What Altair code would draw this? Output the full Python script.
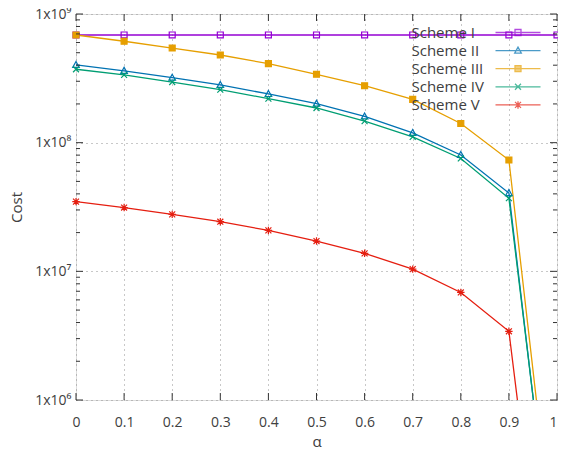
import altair as alt
import pandas as pd

# ---------------- data ----------------
alpha = [0.0, 0.1, 0.2, 0.3, 0.4, 0.5, 0.6, 0.7, 0.8, 0.9, 1.0]
schemes = ["Scheme I", "Scheme II", "Scheme III", "Scheme IV", "Scheme V"]
cost_I = [6.87e8, 6.87e8, 6.87e8, 6.87e8, 6.87e8, 6.87e8, 6.87e8, 6.87e8, 6.87e8, 6.87e8, 6.87e8]
cost_II = [4.02e8, 3.62e8, 3.20e8, 2.81e8, 2.39e8, 2.01e8, 1.60e8, 1.19e8, 8.02e7, 4.06e7, 2.8e4]
cost_III = [6.87e8, 6.14e8, 5.44e8, 4.80e8, 4.11e8, 3.40e8, 2.77e8, 2.17e8, 1.41e8, 7.33e7, 4.0e4]
cost_IV = [3.72e8, 3.36e8, 2.96e8, 2.58e8, 2.20e8, 1.86e8, 1.47e8, 1.11e8, 7.54e7, 3.70e7, 3.1e4]
cost_V = [3.48e7, 3.13e7, 2.77e7, 2.43e7, 2.08e7, 1.72e7, 1.38e7, 1.04e7, 6.85e6, 3.42e6, 3.3e3]

x_ticks = [0.0, 0.1, 0.2, 0.3, 0.4, 0.5, 0.6, 0.7, 0.8, 0.9, 1.0]
y_major = [1e6, 1e7, 1e8, 1e9]
y_labels = ["1x10⁶", "1x10⁷", "1x10⁸", "1x10⁹"]
y_minor = [k * 10 ** n for n in (6, 7, 8) for k in range(2, 10)]

colors = ["#9400d3", "#0072b2", "#e69f00", "#009e73", "#e51e10"]
fills = ["transparent", "transparent", "#e69f00", "transparent", "transparent"]


def f(v):
    return f"{v:.3f}"


# marker path builders: centre cx, half-size h (path units)
def sq(cx, h):
    return f"M{f(cx-h)},{f(-h)}H{f(cx+h)}V{f(h)}H{f(cx-h)}Z"


def tri(cx, h):
    return f"M{f(cx)},{f(-1.15*h)}L{f(cx+1.1*h)},{f(0.85*h)}H{f(cx-1.1*h)}Z"


def xx(cx, h):
    return f"M{f(cx-h)},{f(-h)}L{f(cx+h)},{f(h)}M{f(cx-h)},{f(h)}L{f(cx+h)},{f(-h)}"


def ast(cx, h):
    return xx(cx, h) + f"M{f(cx)},{f(-1.25*h)}V{f(1.25*h)}M{f(cx-1.25*h)},0H{f(cx+1.25*h)}"


builders = [sq, tri, sq, xx, ast]
# data markers: size 49 -> r = 3.5 px per unit, ~6 px wide
marker_paths = [b(0, 0.85) for b in builders]
# legend samples: symbolSize 100 -> r = 5 px per unit; line + marker to the right of the label
R = 5.0
L0, L1, MC = 91.5 / R, 136.5 / R, 114.0 / R
legend_paths = [f"M{f(L0)},0H{f(L1)}" + b(MC, 0.6) for b in builders]

rows = []
for name, vals in zip(schemes, [cost_I, cost_II, cost_III, cost_IV, cost_V]):
    for a, v in zip(alpha, vals):
        rows.append({"alpha": a, "cost": v, "scheme": name})
df = pd.DataFrame(rows)

W, H = 481, 386
FONT = "Open Sans"
TXT = "#404040"

x_enc = alt.X(
    "alpha:Q",
    scale=alt.Scale(domain=[0, 1], nice=False, zero=False),
    axis=alt.Axis(
        values=x_ticks, format=".1~f", title="α", ticks=False, tickSize=0, domain=False,
        labelFlush=False, labelOverlap=False,
        labelAlign={"condition": {"test": "datum.value >= 1", "value": "right"}, "value": "center"},
        grid=True, gridDash=[1, 4], gridColor="#909090", gridWidth=1,
        labelFont=FONT, labelFontSize=14, labelColor=TXT, labelPadding=15,
        titleFont=FONT, titleFontSize=15, titleFontWeight="normal", titleColor=TXT,
        titlePadding=5,
    ),
)
label_expr = "[" + ",".join("'" + s + "'" for s in y_labels) + "][round(log(datum.value)/LN10) - 6]"
y_enc = alt.Y(
    "cost:Q",
    scale=alt.Scale(type="log", domain=[1e6, 1e9], nice=False),
    axis=alt.Axis(
        values=y_major, labelExpr=label_expr, title="Cost", ticks=False, tickSize=0, domain=False,
        labelFlush=False, labelOverlap=False,
        grid=True, gridDash=[1, 4], gridColor="#909090", gridWidth=1,
        labelFont=FONT, labelFontSize=14, labelColor=TXT, labelPadding=5,
        titleFont=FONT, titleFontSize=15, titleFontWeight="normal", titleColor=TXT,
        titlePadding=10,
    ),
)

color_scale = alt.Scale(domain=schemes, range=colors)
fill_scale = alt.Scale(domain=schemes, range=fills)

lines = alt.Chart(df).mark_line(clip=True, strokeWidth=1.3).encode(
    x=x_enc,
    y=y_enc,
    color=alt.Color("scheme:N", scale=color_scale, legend=None),
    detail="scheme:N",
    order="alpha:Q",
)

points = alt.Chart(df).transform_filter("datum.cost >= 1e6").mark_point(
    size=49, strokeWidth=1.2, opacity=1, filled=False
).encode(
    x="alpha:Q",
    y="cost:Q",
    color=alt.Color("scheme:N", scale=color_scale, legend=None),
    fill=alt.Fill("scheme:N", scale=fill_scale, legend=None),
    shape=alt.Shape("scheme:N", scale=alt.Scale(domain=schemes, range=marker_paths), legend=None),
)

leg = alt.Legend(
    title=None, orient="none", legendX=320.5, legendY=11,
    labelFont=FONT, labelFontSize=15, labelColor=TXT,
    labelOffset=0, symbolOffset=0, padding=0, rowPadding=2.1,
    symbolSize=100, symbolStrokeWidth=1.3,
)
legend_layer = alt.Chart(df).transform_filter("datum.cost < 0").mark_point(
    size=100, strokeWidth=1.3, filled=False
).encode(
    x="alpha:Q",
    y="cost:Q",
    color=alt.Color("scheme:N", scale=color_scale, legend=leg),
    fill=alt.Fill("scheme:N", scale=fill_scale, legend=leg),
    shape=alt.Shape("scheme:N", scale=alt.Scale(domain=schemes, range=legend_paths), legend=leg),
)

tick_color = "#333333"
ymaj_df = pd.DataFrame({"v": y_major})
ymin_df = pd.DataFrame({"v": y_minor})
x_df = pd.DataFrame({"v": x_ticks})
ysc = alt.Scale(type="log", domain=[1e6, 1e9], nice=False)
xsc = alt.Scale(domain=[0, 1], nice=False, zero=False)


def yrule(data, x0, x1):
    return alt.Chart(data).mark_rule(color=tick_color, strokeWidth=1).encode(
        y=alt.Y("v:Q", scale=ysc), x=alt.value(x0), x2=alt.value(x1)
    )


def xrule(y0, y1):
    return alt.Chart(x_df).mark_rule(color=tick_color, strokeWidth=1).encode(
        x=alt.X("v:Q", scale=xsc), y=alt.value(y0), y2=alt.value(y1)
    )


ticks = [
    yrule(ymaj_df, 0, 7), yrule(ymin_df, 0, 4),
    yrule(ymaj_df, W, W - 7), yrule(ymin_df, W, W - 4),
    xrule(H, H - 7), xrule(0, 7),
]

chart = alt.layer(lines, points, legend_layer, *ticks).resolve_scale(
    color="independent", fill="independent", shape="independent"
).properties(
    width=W, height=H,
    autosize=alt.AutoSizeParams(type="none"),
    padding={"left": 68, "top": 6, "right": 1, "bottom": 50},
).configure_view(
    stroke="#333333", strokeWidth=1
).configure(background="white")

chart.save("out.html", embed_options={"renderer": "svg", "actions": False})
